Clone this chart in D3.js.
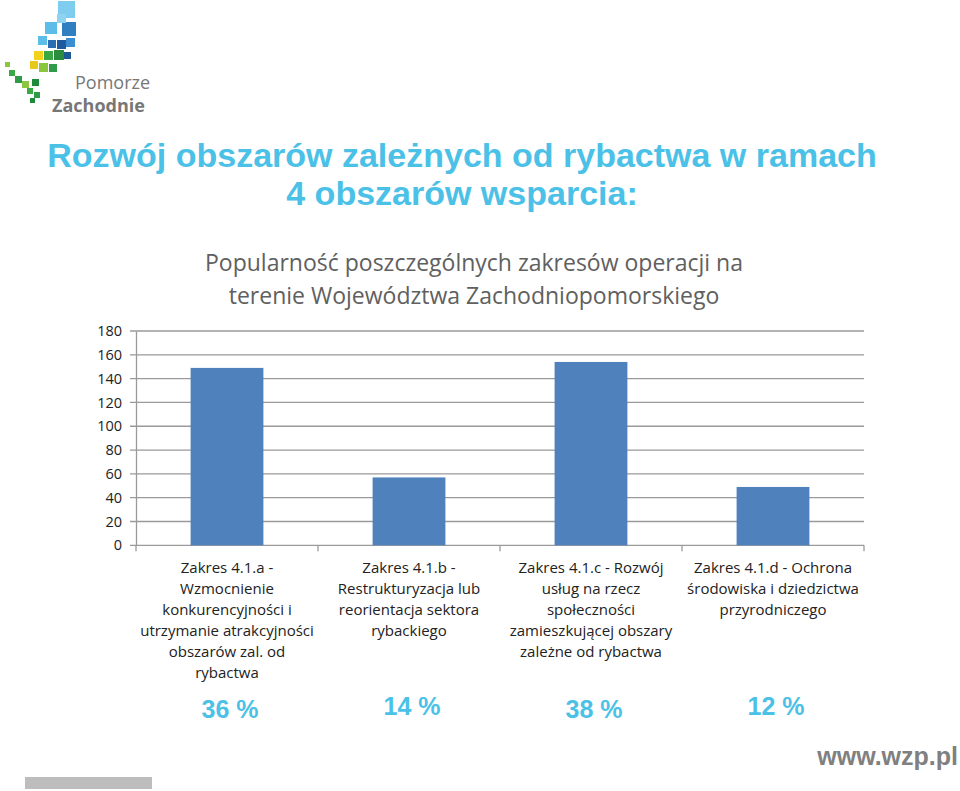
<!DOCTYPE html>
<html><head><meta charset="utf-8">
<script src="https://cdn.jsdelivr.net/npm/d3@7"></script>
<style>body{margin:0;background:#fff}svg{display:block}</style>
</head><body>
<script>
const categories = [
  ["Zakres 4.1.a -","Wzmocnienie","konkurencyjności i","utrzymanie atrakcyjności","obszarów zal. od","rybactwa"],
  ["Zakres 4.1.b -","Restrukturyzacja lub","reorientacja sektora","rybackiego"],
  ["Zakres 4.1.c - Rozwój","usług na rzecz","społeczności","zamieszkującej obszary","zależne od rybactwa"],
  ["Zakres 4.1.d - Ochrona","środowiska i dziedzictwa","przyrodniczego"]
];
const values = [149, 57, 154, 49];
const percentLabels = ["36 %", "14 %", "38 %", "12 %"];
const yTicks = [0,20,40,60,80,100,120,140,160,180];
const heading = ["Rozwój obszarów zależnych od rybactwa w ramach","4 obszarów wsparcia:"];
const chartTitle = ["Popularność poszczególnych zakresów operacji na","terenie Województwa Zachodniopomorskiego"];

(function(){
const W = 960, H = 791;
const svg = d3.select("body").append("svg").attr("width", W).attr("height", H);

// logo
const logo = svg.append("g");
const sq = [
  [58,1,17,17,"#7fcdee"],[45,22,12,12,"#5bbde8"],[62,22,14,14,"#2f7fc1"],[57,14,9,9,"#8fd3f0"],
  [38,36,9,9,"#5bbde8"],[48,40,8,8,"#2a6db3"],[57,40,9,9,"#1f5aa0"],[66,38,9,9,"#3b8fd0"],
  [34,51,9,9,"#f2d21b"],[44,51,9,9,"#3aa845"],[54,50,10,10,"#2a8c3c"],[64,52,7,7,"#1e5a96"],
  [30,61,8,8,"#e9c81c"],[39,63,9,9,"#8cc63f"],[49,64,8,8,"#2f9a48"],
  [5,62,5,5,"#8cc63f"],[9,70,6,6,"#3aa845"],[15,76,7,7,"#2f9a48"],[22,81,7,7,"#8cc63f"],
  [27,88,6,6,"#3aa845"],[32,79,7,7,"#1f8a3c"],[34,92,6,6,"#2f9a48"],[30,98,5,5,"#1f8a3c"]
];
logo.selectAll("rect").data(sq).join("rect")
  .attr("x", d=>d[0]).attr("y", d=>d[1]).attr("width", d=>d[2]).attr("height", d=>d[3]).attr("fill", d=>d[4]);
logo.append("text").attr("x",75).attr("y",89).attr("font-family","Open Sans, sans-serif")
  .attr("font-size",18).attr("fill","#777").text("Pomorze");
logo.append("text").attr("x",52).attr("y",112).attr("font-family","Open Sans, sans-serif")
  .attr("font-weight","bold").attr("font-size",18).attr("fill","#777").text("Zachodnie");

// heading
svg.append("g").selectAll("text").data(heading).join("text")
  .attr("x", 462).attr("y", (d,i)=>167 + i*38)
  .attr("text-anchor","middle")
  .attr("font-family","Liberation Sans Narrow, Liberation Sans, Arial, sans-serif")
  .attr("font-weight","bold").attr("font-size",34).attr("fill","#4bc1e7")
  .text(d=>d);

// chart title
svg.append("g").selectAll("text").data(chartTitle).join("text")
  .attr("x", 474).attr("y", (d,i)=>271 + i*33)
  .attr("text-anchor","middle")
  .attr("font-family","Open Sans, sans-serif")
  .attr("font-size",23).attr("fill","#606060")
  .text(d=>d);

const pl = 136, pr = 864, pt = 331, pb = 545.3;
const x = d3.scaleBand().domain(d3.range(values.length)).range([pl, pr]).paddingInner(0.6).paddingOuter(0.3);
const y = d3.scaleLinear().domain([0,180]).range([pb, pt]);

// gridlines
svg.append("g").selectAll("line").data(yTicks).join("line")
  .attr("x1", pl-6).attr("x2", pr).attr("y1", d=>y(d)).attr("y2", d=>y(d))
  .attr("stroke","#9a9a9a").attr("stroke-width",1.3);

// y axis labels
const yAxis = d3.axisLeft(y).tickValues(yTicks).tickSize(0).tickPadding(14);
const yg = svg.append("g").attr("transform",`translate(${pl},0)`).call(yAxis);
yg.select(".domain").attr("stroke","#9a9a9a").attr("stroke-width",1.3);
yg.selectAll("text").attr("font-family","Open Sans, sans-serif").attr("font-size",14.5).attr("fill","#222");

// bars
svg.append("g").selectAll("rect").data(values).join("rect")
  .attr("x",(d,i)=>x(i)).attr("width",x.bandwidth())
  .attr("y",d=>y(d)).attr("height",d=>pb-y(d))
  .attr("fill","#4f81bd");

// x axis ticks at band boundaries
const step = x.step();
const bounds = d3.range(values.length+1).map(i => pl + i*step);
svg.append("g").selectAll("line").data(bounds).join("line")
  .attr("x1",d=>d).attr("x2",d=>d).attr("y1",pb).attr("y2",pb+6)
  .attr("stroke","#9a9a9a").attr("stroke-width",1.3);

// category labels
const cg = svg.append("g");
categories.forEach((lines,i)=>{
  const cx = x(i) + x.bandwidth()/2;
  cg.append("g").selectAll("text").data(lines).join("text")
    .attr("x", cx).attr("y",(d,j)=>573 + j*21)
    .attr("text-anchor","middle")
    .attr("font-family","Open Sans, sans-serif").attr("font-size",15).attr("fill","#222")
    .text(d=>d);
});

// percent labels
const pY = [718, 715, 718, 715];
svg.append("g").selectAll("text").data(percentLabels).join("text")
  .attr("x",(d,i)=>x(i)+x.bandwidth()/2 + 3).attr("y",(d,i)=>pY[i])
  .attr("text-anchor","middle")
  .attr("font-family","Liberation Sans Narrow, Liberation Sans, Arial, sans-serif")
  .attr("font-weight","bold").attr("font-size",25).attr("fill","#4bc1e7")
  .text(d=>d);

// footer
svg.append("text").attr("x",958).attr("y",765).attr("text-anchor","end")
  .attr("font-family","Liberation Sans Narrow, Liberation Sans, Arial, sans-serif")
  .attr("font-weight","bold").attr("font-size",25).attr("fill","#808080").text("www.wzp.pl");
svg.append("rect").attr("x",25).attr("y",777).attr("width",127).attr("height",12).attr("fill","#bdbdbd");
})();
</script>
</body></html>
